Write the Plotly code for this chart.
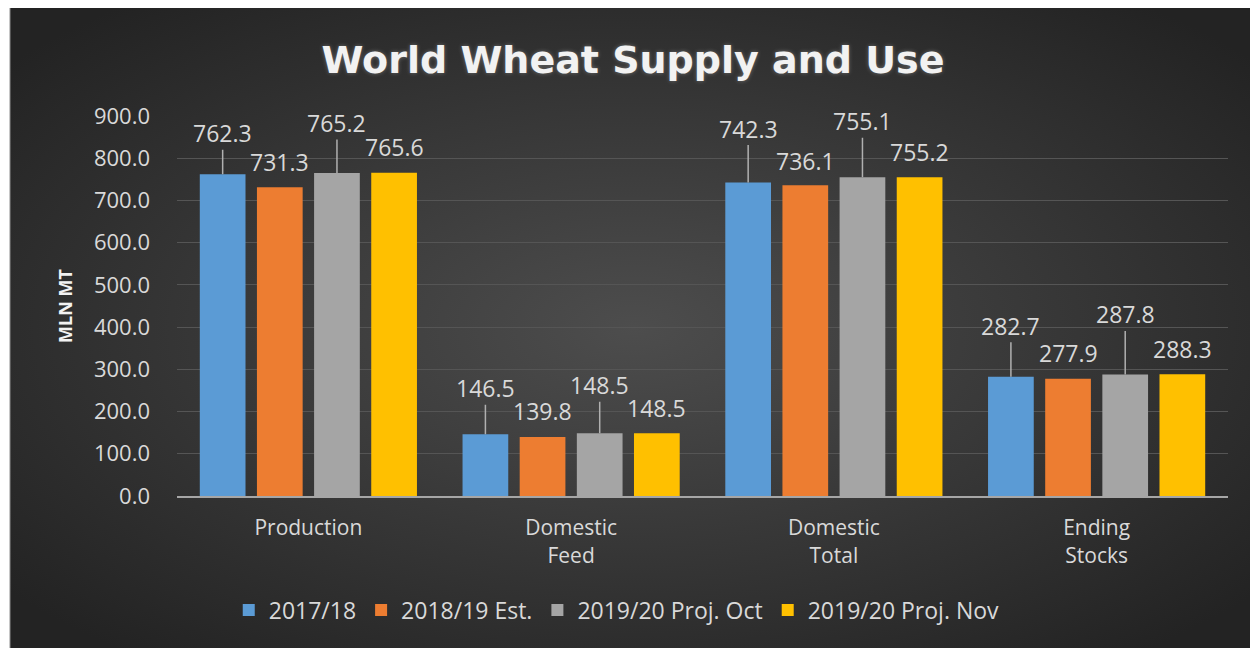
import base64
import plotly.graph_objects as go

# ---- data ----
categories = ["Production", "Domestic Feed", "Domestic Total", "Ending Stocks"]
tick_labels = ["Production", "Domestic<br>Feed", "Domestic<br>Total", "Ending<br>Stocks"]
series_names = ["2017/18", "2018/19 Est.", "2019/20 Proj. Oct", "2019/20 Proj. Nov"]
v_2017_18 = [762.3, 146.5, 742.3, 282.7]
v_2018_19 = [731.3, 139.8, 736.1, 277.9]
v_2019_20_oct = [765.2, 148.5, 755.1, 287.8]
v_2019_20_nov = [765.6, 148.5, 755.2, 288.3]
y_ticks = [0, 100, 200, 300, 400, 500, 600, 700, 800, 900]

# ---- style ----
colors = ["#5b9bd5", "#ed7d31", "#a5a5a5", "#ffc000"]
label_font = dict(family="Open Sans", size=23, color="#d9d9d9")
# vertical label offsets (px above bar top) per series / category
label_offsets = [
    [41, 46, 54, 51],   # with leader line
    [25, 26, 24, 26],
    [50, 48, 56, 60],   # with leader line
    [26, 25, 25, 25],
]
leader = [True, False, True, False]

# the page has an 8px body margin, so the figure is 8px smaller than the window
W, H = 1250, 640
ML, MR, MT, MB = 169, 30, 108, 152
PW, PH = W - ML - MR, H - MT - MB
BARGAP, GROUPGAP = 0.13, 0.2

series_values = [v_2017_18, v_2018_19, v_2019_20_oct, v_2019_20_nov]

fig = go.Figure()
for name, vals, col in zip(series_names, series_values, colors):
    fig.add_trace(go.Bar(
        x=categories, y=vals, name=name,
        marker=dict(color=col, line=dict(width=0)),
        hoverinfo="skip",
    ))

# label annotations
slot_px = PW / len(categories) * (1 - BARGAP) / 4
annotations = []
for k, vals in enumerate(series_values):
    xs = (k - 1.5) * slot_px
    for i, (cat, v) in enumerate(zip(categories, vals)):
        txt = f"{v:.1f}"
        if leader[k]:
            annotations.append(dict(
                x=cat, y=v, xref="x", yref="y", text=txt, showarrow=True,
                arrowhead=0, arrowwidth=1.5, arrowcolor="#b0b0b0", standoff=0,
                ax=0, ay=-label_offsets[k][i], xshift=xs,
                font=label_font, borderpad=0,
            ))
        else:
            annotations.append(dict(
                x=cat, y=v, xref="x", yref="y", text=txt, showarrow=False,
                yshift=label_offsets[k][i], xshift=xs, yanchor="middle",
                font=label_font,
            ))

# radial gradient background (as svg image)
svg = f'''<svg xmlns="http://www.w3.org/2000/svg" width="{W}" height="{H}" viewBox="0 0 {W} {H}" preserveAspectRatio="none">
<defs><radialGradient id="g" cx="50%" cy="50%" r="65%">
<stop offset="0%" stop-color="#4d4d4d"/><stop offset="100%" stop-color="#232323"/>
</radialGradient></defs>
<rect width="{W}" height="{H}" fill="url(#g)"/></svg>'''
src = "data:image/svg+xml;base64," + base64.b64encode(svg.encode()).decode()
bx0, by0 = 2, 0
img_x = (bx0 - ML) / PW
img_y = (H - MB - by0) / PH
img_sx = (W - bx0) / PW
img_sy = (H - by0) / PH

fig.update_layout(
    width=W, height=H,
    margin=dict(l=ML, r=MR, t=MT, b=MB, pad=0),
    paper_bgcolor="#ffffff",
    plot_bgcolor="rgba(0,0,0,0)",
    images=[dict(source=src, xref="paper", yref="paper", x=img_x, y=img_y,
                 sizex=img_sx, sizey=img_sy, xanchor="left", yanchor="top",
                 sizing="stretch", layer="below")],
    shapes=[dict(type="line", xref="paper", yref="paper",
                 x0=img_x, x1=img_x, y0=img_y - img_sy, y1=img_y,
                 line=dict(color="#8c8c8c", width=1), layer="below")],
    title=dict(text="<b>World Wheat Supply and Use</b>", x=0.5, xref="container",
               y=1 - 52 / H, yref="container", yanchor="middle",
               font=dict(family="DejaVu Sans", size=38, color="#f2f2f2",
                         shadow="0px 0px 4px rgba(255,255,255,0.3)")),
    barmode="group", bargap=BARGAP, bargroupgap=GROUPGAP,
    xaxis=dict(
        tickmode="array", tickvals=categories, ticktext=tick_labels,
        tickfont=dict(family="Open Sans", size=21, color="#d9d9d9"),
        ticklabelstandoff=12,
        showline=True, linecolor="#a6a6a6", linewidth=2,
        showgrid=False, ticks="", fixedrange=True,
    ),
    yaxis=dict(
        range=[0, 900], tickvals=y_ticks,
        ticktext=[f"{t:.1f}" for t in y_ticks],
        tickfont=dict(family="Open Sans", size=22, color="#d9d9d9"),
        ticklabelstandoff=26,
        showgrid=True, gridcolor="#555555", gridwidth=1.2,
        zeroline=False, showline=False, ticks="",
        title=dict(text="<b>MLN MT</b>", standoff=16,
                   font=dict(family="Open Sans", size=18, color="#f2f2f2")),
    ),
    legend=dict(orientation="h", x=0.487, xref="container", xanchor="center",
                y=1 - 602 / H, yref="container", yanchor="middle",
                font=dict(family="Open Sans", size=23, color="#d9d9d9"),
                bgcolor="rgba(0,0,0,0)", itemwidth=30, traceorder="normal"),
    annotations=annotations,
    showlegend=True,
)

fig.write_html("out.html")
